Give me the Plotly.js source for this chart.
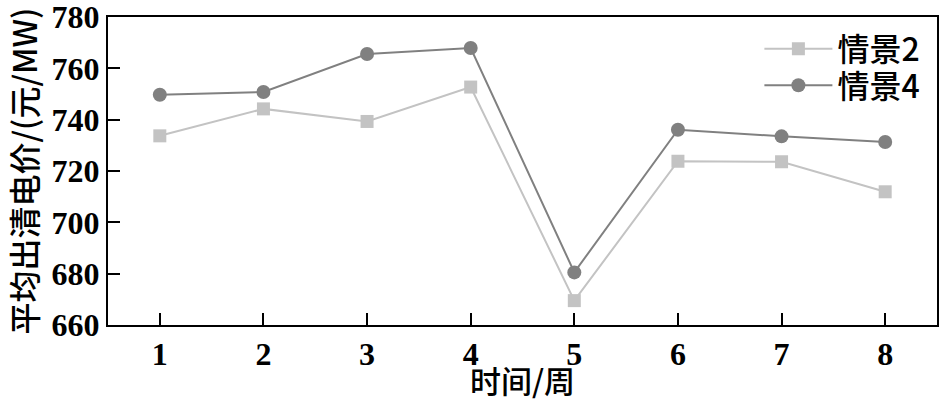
<!DOCTYPE html>
<html>
<head>
<meta charset="utf-8">
<script src="https://cdn.plot.ly/plotly-3.0.1.min.js"></script>
<style>html,body{margin:0;padding:0;background:#fff;}#chart{width:939px;height:402px;}</style>
</head>
<body>
<div id="chart"></div>
<script>
var weeks = [1, 2, 3, 4, 5, 6, 7, 8];
var scenario2 = [733.7, 744.2, 739.3, 752.7, 669.5, 723.8, 723.6, 711.9];
var scenario4 = [749.7, 750.8, 765.6, 767.9, 680.5, 736.1, 733.5, 731.3];
var seriesNames = ['情景2', '情景4'];
var yTicks = [660, 680, 700, 720, 740, 760, 780];

var serif = '"Liberation Serif", "Times New Roman", serif';
var cjk = '"Noto Sans CJK SC", sans-serif';

var traces = [
  {x: weeks, y: scenario2, name: seriesNames[0], mode: 'lines+markers', type: 'scatter', legend: 'legend',
   line: {color: '#c3c3c3', width: 2}, marker: {symbol: 'square', size: 13, color: '#c3c3c3'}},
  {x: weeks, y: scenario4, name: seriesNames[1], mode: 'lines+markers', type: 'scatter', legend: 'legend2',
   line: {color: '#808080', width: 2}, marker: {symbol: 'circle', size: 14, color: '#808080'}}
];

var legendFont = {family: cjk, size: 32, color: '#000', weight: 500};
var layout = {
  width: 939, height: 402,
  margin: {l: 108, r: 2, t: 17, b: 77},
  paper_bgcolor: '#fff', plot_bgcolor: '#fff',
  showlegend: true,
  legend: {x: 0.986, y: 0.896, xanchor: 'right', yanchor: 'middle', bgcolor: 'rgba(0,0,0,0)',
    font: legendFont, itemwidth: 68},
  legend2: {x: 0.986, y: 0.778, xanchor: 'right', yanchor: 'middle', bgcolor: 'rgba(0,0,0,0)',
    font: legendFont, itemwidth: 68},
  xaxis: {range: [0.5, 8.5], tickvals: weeks, ticks: 'inside', ticklen: 12, tickwidth: 2, tickcolor: '#000',
    showgrid: false, zeroline: false, showline: true, linecolor: '#000', linewidth: 2, mirror: true,
    tickfont: {family: serif, size: 32, color: '#000', weight: 'bold'}, ticklabeloverflow: 'allow',
    title: {text: '时间/周', font: {family: cjk, size: 31, color: '#000', weight: 500}, standoff: 10}},
  yaxis: {range: [660, 780], tickvals: yTicks, ticks: 'inside', ticklen: 12, tickwidth: 2, tickcolor: '#000',
    showgrid: false, zeroline: false, showline: true, linecolor: '#000', linewidth: 2, mirror: true,
    tickfont: {family: serif, size: 32, color: '#000', weight: 'bold'}, ticklabeloverflow: 'allow',
    title: {text: '平均出清电价/(元/MW)', font: {family: cjk, size: 32, color: '#000', weight: 500}, standoff: 4}}
};

Plotly.newPlot('chart', traces, layout, {displayModeBar: false, staticPlot: true});
</script>
</body>
</html>
